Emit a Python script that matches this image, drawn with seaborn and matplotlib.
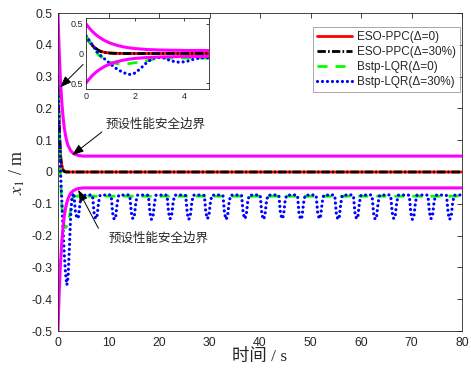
import matplotlib
matplotlib.use("Agg")
import matplotlib.pyplot as plt
import pandas as pd
import seaborn as sns

sns.set_theme(style="white")
plt.rcParams["font.family"] = ["Liberation Sans", "Noto Sans CJK SC", "DejaVu Sans"]
plt.rcParams["mathtext.fontset"] = "stix"
plt.rcParams["axes.unicode_minus"] = False

# ---------------- data ----------------
# prescribed performance envelope (upper / lower safety boundary)
t_bound = [0.0, 0.1, 0.25, 0.4, 0.5, 0.75, 1.0, 1.25, 1.5, 1.75, 2.0, 2.5, 3.0, 3.5, 4.0, 5.0, 80.0]
upper_bound = [0.50, 0.446, 0.375, 0.318, 0.285, 0.220, 0.173, 0.139, 0.114, 0.096, 0.083,
               0.067, 0.059, 0.055, 0.052, 0.050, 0.050]
lower_bound = [-0.50, -0.446, -0.375, -0.318, -0.285, -0.220, -0.173, -0.139, -0.114, -0.096,
               -0.083, -0.067, -0.059, -0.055, -0.052, -0.050, -0.050]

# ESO-PPC responses
t_eso = [0.0, 0.1, 0.2, 0.3, 0.4, 0.5, 0.6, 0.8, 1.0, 1.2, 1.5, 2.0, 3.0, 80.0]
eso_nom = [0.28, 0.22, 0.165, 0.12, 0.085, 0.055, 0.035, 0.016, 0.007, 0.003, 0.001, 0.0, 0.0, 0.0]
eso_30 = [0.28, 0.22, 0.163, 0.118, 0.083, 0.054, 0.034, 0.015, 0.006, 0.002, 0.0, 0.0, 0.0, 0.0]

# Backstepping-LQR, nominal
t_lqr = [0.0, 0.25, 0.5, 0.75, 1.0, 1.25, 1.5, 1.75, 2.0, 2.25, 2.5, 2.75, 3.0, 3.5, 80.0]
lqr_nom = [0.30, 0.13, -0.02, -0.10, -0.15, -0.17, -0.175, -0.17, -0.155, -0.14, -0.12,
           -0.095, -0.076, -0.076, -0.076]

# Backstepping-LQR, 30% uncertainty (persistent oscillation)
t_lqr30 = [0.0, 0.25, 0.5, 0.75, 1.0, 1.25, 1.5, 1.75, 2.0, 2.25, 2.5, 2.75, 3.0, 3.15, 3.45, 3.75, 4.05, 4.35, 4.65,
           6.54, 6.84, 7.14, 7.44, 7.74, 8.04, 8.34,
           10.23, 10.53, 10.83, 11.13, 11.43, 11.73, 12.03,
           13.92, 14.22, 14.52, 14.82, 15.12, 15.42, 15.72,
           17.61, 17.91, 18.21, 18.51, 18.81, 19.11, 19.41,
           21.30, 21.60, 21.90, 22.20, 22.50, 22.80, 23.10,
           24.99, 25.29, 25.59, 25.89, 26.19, 26.49, 26.79,
           28.68, 28.98, 29.28, 29.58, 29.88, 30.18, 30.48,
           32.37, 32.67, 32.97, 33.27, 33.57, 33.87, 34.17,
           36.06, 36.36, 36.66, 36.96, 37.26, 37.56, 37.86,
           39.75, 40.05, 40.35, 40.65, 40.95, 41.25, 41.55,
           43.44, 43.74, 44.04, 44.34, 44.64, 44.94, 45.24,
           47.13, 47.43, 47.73, 48.03, 48.33, 48.63, 48.93,
           50.82, 51.12, 51.42, 51.72, 52.02, 52.32, 52.62,
           54.51, 54.81, 55.11, 55.41, 55.71, 56.01, 56.31,
           58.20, 58.50, 58.80, 59.10, 59.40, 59.70, 60.00,
           61.89, 62.19, 62.49, 62.79, 63.09, 63.39, 63.69,
           65.58, 65.88, 66.18, 66.48, 66.78, 67.08, 67.38,
           69.27, 69.57, 69.87, 70.17, 70.47, 70.77, 71.07,
           72.96, 73.26, 73.56, 73.86, 74.16, 74.46, 74.76,
           76.65, 76.95, 77.25, 77.55, 77.85, 78.15, 78.45,
           80.0]
lqr_30 = [0.30, 0.15, 0.0, -0.09, -0.18, -0.26, -0.32, -0.355, -0.33, -0.24, -0.14, -0.08, -0.066, -0.072, -0.125, -0.146, -0.14, -0.10, -0.074,
          -0.072, -0.074, -0.128, -0.147, -0.138, -0.095, -0.073,
          -0.072, -0.074, -0.130, -0.149, -0.140, -0.097, -0.073,
          -0.072, -0.074, -0.128, -0.147, -0.138, -0.095, -0.073,
          -0.072, -0.074, -0.130, -0.149, -0.140, -0.097, -0.073,
          -0.072, -0.074, -0.128, -0.147, -0.138, -0.095, -0.073,
          -0.072, -0.074, -0.130, -0.149, -0.140, -0.097, -0.073,
          -0.072, -0.074, -0.128, -0.147, -0.138, -0.095, -0.073,
          -0.072, -0.074, -0.130, -0.149, -0.140, -0.097, -0.073,
          -0.072, -0.074, -0.128, -0.147, -0.138, -0.095, -0.073,
          -0.072, -0.074, -0.130, -0.149, -0.140, -0.097, -0.073,
          -0.072, -0.074, -0.128, -0.147, -0.138, -0.095, -0.073,
          -0.072, -0.074, -0.130, -0.149, -0.140, -0.097, -0.073,
          -0.072, -0.074, -0.128, -0.147, -0.138, -0.095, -0.073,
          -0.072, -0.074, -0.130, -0.149, -0.140, -0.097, -0.073,
          -0.072, -0.074, -0.128, -0.147, -0.138, -0.095, -0.073,
          -0.072, -0.074, -0.130, -0.149, -0.140, -0.097, -0.073,
          -0.072, -0.074, -0.128, -0.147, -0.138, -0.095, -0.073,
          -0.072, -0.074, -0.130, -0.149, -0.140, -0.097, -0.073,
          -0.072, -0.074, -0.128, -0.147, -0.138, -0.095, -0.073,
          -0.072, -0.074, -0.130, -0.149, -0.140, -0.097, -0.073,
          -0.072]

series_labels = ["ESO-PPC(Δ=0)", "ESO-PPC(Δ=30%)", "Bstp-LQR(Δ=0)", "Bstp-LQR(Δ=30%)"]
boundary_label = "预设性能安全边界"

x_ticks = [0, 10, 20, 30, 40, 50, 60, 70, 80]
y_ticks = [-0.5, -0.4, -0.3, -0.2, -0.1, 0.0, 0.1, 0.2, 0.3, 0.4, 0.5]
y_tick_labels = ["-0.5", "-0.4", "-0.3", "-0.2", "-0.1", "0", "0.1", "0.2", "0.3", "0.4", "0.5"]
inset_x_ticks = [0, 2, 4]
inset_y_ticks = [-0.5, 0.0, 0.5]
inset_y_tick_labels = ["0.5", "0", "0.5"]

# ---------------- styles ----------------
AX_COL = "#262626"
styles = [
    dict(color="#ff0000", lw=2.0, ls="-", cap="butt"),
    dict(color="#000000", lw=2.0, ls=(0, (3.0, 0.8, 0.6, 0.8)), cap="butt"),
    dict(color="#00ff00", lw=2.0, ls=(0, (3.6, 2.9)), cap="butt"),
    dict(color="#0000ff", lw=2.3, ls=(0, (0.01, 1.55)), cap="round"),
]
bound_style = dict(color="#ff00ff", lw=2.2)

curves = [(t_eso, eso_nom), (t_eso, eso_30), (t_lqr, lqr_nom), (t_lqr30, lqr_30)]


def draw_all(ax):
    handles = []
    for (tt, yy), st, lab in zip(curves, styles, series_labels):
        df = pd.DataFrame({"t": tt, "x1": yy})
        sns.lineplot(data=df, x="t", y="x1", ax=ax, color=st["color"], linewidth=st["lw"],
                     linestyle=st["ls"], dash_capstyle=st["cap"], estimator=None,
                     errorbar=None, legend=False)
        handles.append(ax.lines[-1])
    for yy in (upper_bound, lower_bound):
        df = pd.DataFrame({"t": t_bound, "x1": yy})
        sns.lineplot(data=df, x="t", y="x1", ax=ax, color=bound_style["color"],
                     linewidth=bound_style["lw"], estimator=None, errorbar=None, legend=False)
    return handles


def style_axes(ax, size, length, pad):
    for sp in ax.spines.values():
        sp.set_visible(True)
        sp.set_color(AX_COL)
        sp.set_linewidth(0.6)
    ax.tick_params(direction="in", top=True, right=True, length=length, width=0.6,
                   colors=AX_COL, labelsize=size, pad=pad)
    ax.set_xlabel("")
    ax.set_ylabel("")


fig = plt.figure(figsize=(4.71, 3.73), dpi=100)
ax = fig.add_axes([58 / 471, 1 - 331 / 373, 404 / 471, 318 / 373])
handles = draw_all(ax)
ax.set_xlim(0, 80)
ax.set_ylim(-0.5, 0.5)
ax.set_xticks(x_ticks)
ax.set_yticks(y_ticks)
ax.set_yticklabels(y_tick_labels)
style_axes(ax, 8.8, 3.5, 4)

ax.set_xlabel("时间 / s", family=["Liberation Serif", "Noto Sans CJK SC"], fontsize=12.5,
              color=AX_COL, labelpad=0)
ax.set_ylabel(r"$x_1$ / m", family=["Liberation Serif"], fontsize=13, color=AX_COL, labelpad=3)

leg = ax.legend(handles, series_labels, loc="upper right", bbox_to_anchor=(0.995, 0.956),
                borderaxespad=0, fontsize=8.5, handlelength=3.0, handletextpad=0.4,
                labelspacing=0.25, borderpad=0.35, frameon=True, fancybox=False)
leg.get_frame().set_edgecolor("#808080")
leg.get_frame().set_linewidth(0.6)
for txt in leg.get_texts():
    txt.set_color(AX_COL)

arrow = dict(arrowstyle="-|>,head_length=0.7,head_width=0.26", color="black", lw=0.7,
             mutation_scale=10, shrinkA=0, shrinkB=0)
text_kw = dict(fontsize=9, color=AX_COL, family=["Noto Sans CJK SC"], ha="center", va="center")
ax.annotate("", xy=(2.8, 0.053), xytext=(8.7, 0.126), arrowprops=arrow)
ax.text(19.4, 0.151, boundary_label, **text_kw)
ax.annotate("", xy=(4.0, -0.056), xytext=(8.0, -0.177), arrowprops=arrow)
ax.text(20.0, -0.207, boundary_label, **text_kw)
ax.annotate("", xy=(0.4, 0.266), xytext=(4.95, 0.338), arrowprops=arrow)

# zoomed view of the first seconds
axin = fig.add_axes([86 / 471, 1 - 89 / 373, 123 / 471, 71 / 373])
axin.set_facecolor("white")
draw_all(axin)
axin.set_xlim(0, 5)
axin.set_ylim(-0.6, 0.6)
axin.set_xticks(inset_x_ticks)
axin.set_yticks(inset_y_ticks)
axin.set_yticklabels(inset_y_tick_labels)
style_axes(axin, 6.5, 2.5, 2)

fig.savefig("out.png", dpi=100)
